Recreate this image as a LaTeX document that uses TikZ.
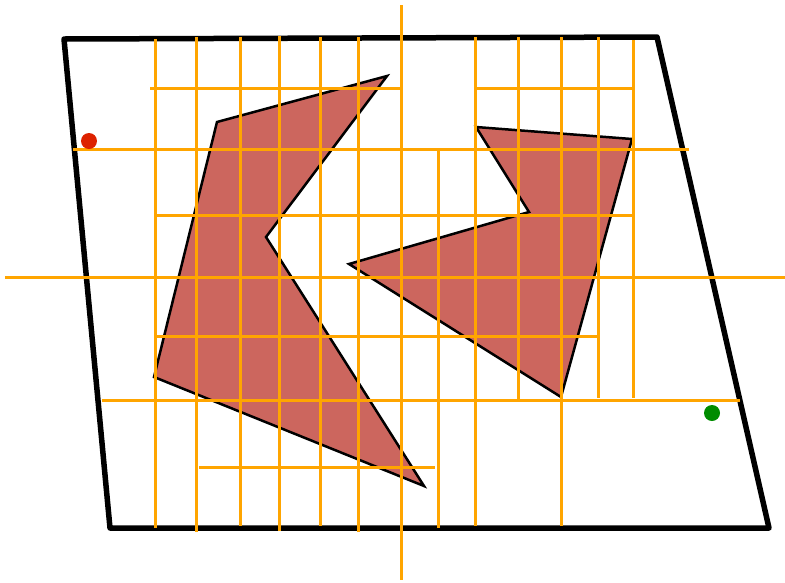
\documentclass[tikz,border=0pt]{standalone}
\definecolor{polyfill}{RGB}{204,102,94}
\definecolor{gridline}{RGB}{255,165,0}
\definecolor{dotred}{RGB}{221,34,0}
\definecolor{dotgreen}{RGB}{0,140,0}
\tikzset{
  frame/.style={line width=5.5pt, line join=round, line cap=round},
  poly/.style={fill=polyfill, draw=black, line width=2.5pt, line join=miter},
  grid/.style={draw=gridline, line width=3pt},
  dot/.style={circle, inner sep=0pt, minimum size=16pt}
}
\begin{document}
\begin{tikzpicture}[x=1pt,y=-1pt]
\useasboundingbox (0,0) rectangle (785,582);
% frame
\draw[frame] (64,39) -- (657,37) -- (769,528) -- (110,528) -- cycle;
% polygons
\draw[poly] (217,122) -- (387,76) -- (266,237) -- (424,486) -- (154,377) -- cycle;
\draw[poly] (476,127) -- (632,139) -- (561,397) -- (349,264) -- (529,212) -- cycle;
% vertical lines
\draw[grid] (401,5) -- (401,580);
\draw[grid] (155,39) -- (155,528);
\draw[grid] (196,37) -- (196,532);
\draw[grid] (240,37) -- (240,526);
\draw[grid] (279,36) -- (279,531);
\draw[grid] (320,37) -- (320,526);
\draw[grid] (358,37) -- (358,532);
\draw[grid] (438,150) -- (438,528);
\draw[grid] (475,37) -- (475,526);
\draw[grid] (518,37) -- (518,399);
\draw[grid] (561,37) -- (561,526);
\draw[grid] (598,37) -- (598,398);
\draw[grid] (633,40) -- (633,398);
% horizontal lines
\draw[grid] (150,88) -- (401,88);
\draw[grid] (475,88) -- (633,88);
\draw[grid] (73,149) -- (689,149);
\draw[grid] (155,215) -- (633,215);
\draw[grid] (5,277) -- (785,277);
\draw[grid] (155,336) -- (598,336);
\draw[grid] (102,400) -- (740,400);
\draw[grid] (199,467) -- (435,467);
% dots
\node[dot, fill=dotred] (r) at (89,141) {};
\node[dot, fill=dotgreen] (g) at (712,413) {};
\end{tikzpicture}
\end{document}
